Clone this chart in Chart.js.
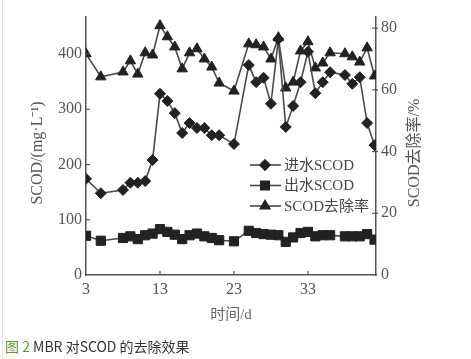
<!DOCTYPE html>
<html>
<head>
<meta charset="utf-8">
<script src="https://cdn.jsdelivr.net/npm/chart.js@4"></script>
<style>
  body { margin: 0; background: #fff; }
  #wrap { position: relative; width: 471px; height: 359px; }
  #edge { position: absolute; left: 2px; top: 0; bottom: 0; border-left: 1px solid #e4e4e4; }
  #caption { position: absolute; left: 5px; top: 336px; font: 14px "Noto Sans CJK SC", "Noto Sans", sans-serif; color: #333; white-space: nowrap; }
  #caption span { color: #5e9a2e; }
</style>
</head>
<body>
<div id="wrap">
  <canvas id="c" width="471" height="359"></canvas>
  <div id="edge"></div>
  <div id="caption"><span>图 2</span> MBR 对SCOD 的去除效果</div>
</div>
<script>
  // data
  const days = [3, 5, 8, 9, 10, 11, 12, 13, 14, 15, 16, 17, 18, 19, 20, 21, 23,
                25, 26, 27, 28, 29, 30, 31, 32, 33, 34, 35, 36, 38, 39, 40, 41, 42];
  const influent = [174, 148, 154, 167, 167, 170, 208, 328, 315, 293, 257, 275, 266, 266, 253, 253, 237,
                    380, 349, 357, 310, 427, 268, 306, 349, 404, 329, 349, 367, 362, 346, 358, 275, 235];
  const effluent = [71, 62, 67, 70, 65, 72, 75, 83, 78, 73, 65, 72, 75, 70, 67, 63, 61,
                    80, 76, 74, 73, 72, 60, 68, 76, 78, 70, 72, 72, 70, 70, 70, 74, 64];
  const removal = [71.7, 64.2, 65.8, 69.4, 65.1, 72, 71.3, 80.8, 77.2, 73.9, 66.8, 72, 73.3, 70, 67.4, 62.2, 59.6,
                   74.9, 74.6, 73.9, 70, 76.9, 60.6, 62.5, 72.6, 75.6, 67.1, 68.7, 72, 71.7, 70.7, 69, 73.6, 64.5];

  const xTicks = [3, 13, 23, 33];
  const leftTicks = [0, 100, 200, 300, 400];
  const rightTicks = [0, 20, 40, 60, 80];

  const SERIF = '"Liberation Serif", "Noto Sans CJK SC", serif';
  const AXIS = '#555';
  const INK = '#222';

  const pts = vals => vals.map((v, i) => ({ x: days[i], y: v }));

  const series = (label, vals, style, radius, axis) => ({
    label: label,
    data: pts(vals),
    yAxisID: axis,
    borderColor: '#4a4a4a',
    borderWidth: 1.6,
    pointStyle: style,
    pointRadius: radius,
    pointBackgroundColor: INK,
    pointBorderColor: INK,
    pointBorderWidth: 1,
    tension: 0
  });

  // small inward tick marks on all three axes
  const innerTicks = {
    id: 'innerTicks',
    afterDraw(chart) {
      const { ctx, chartArea: a, scales } = chart;
      ctx.save();
      ctx.strokeStyle = AXIS;
      ctx.lineWidth = 1.2;
      const seg = (x1, y1, x2, y2) => { ctx.beginPath(); ctx.moveTo(x1, y1); ctx.lineTo(x2, y2); ctx.stroke(); };
      scales.y.ticks.forEach(t => { if (t.value) { const y = scales.y.getPixelForValue(t.value); seg(a.left, y, a.left + 4, y); } });
      scales.y1.ticks.forEach(t => { if (t.value) { const y = scales.y1.getPixelForValue(t.value); seg(a.right - 4, y, a.right + 2, y); } });
      scales.x.ticks.forEach(t => { if (t.value !== 3) { const x = scales.x.getPixelForValue(t.value); seg(x, a.bottom, x, a.bottom - 4); } });
      ctx.restore();
    }
  };

  // both y titles read bottom-to-top, sitting a little below the axis middle
  const yTitles = {
    id: 'yTitles',
    afterDraw(chart) {
      const { ctx, chartArea: a } = chart;
      const mid = (a.top + a.bottom) / 2 + 7;
      const put = (text, x) => {
        ctx.save();
        ctx.translate(x, mid);
        ctx.rotate(-Math.PI / 2);
        ctx.font = '16px ' + SERIF;
        ctx.fillStyle = '#555';
        ctx.textAlign = 'center';
        ctx.textBaseline = 'middle';
        ctx.fillText(text, 0, 0);
        ctx.restore();
      };
      put('SCOD/(mg·L⁻¹)', a.left - 48);
      put('SCOD去除率/%', a.right + 39);
    }
  };

  // legend sits inside the plot, lower right
  const legendBox = {
    id: 'legendBox',
    afterDatasetsDraw(chart) {
      const { ctx, chartArea: a } = chart;
      chart.data.datasets.forEach((ds, i) => {
        const y = a.top + 148 + i * 20.5;
        const x0 = a.left + 164;
        ctx.save();
        ctx.strokeStyle = ds.borderColor;
        ctx.lineWidth = ds.borderWidth;
        ctx.beginPath(); ctx.moveTo(x0, y); ctx.lineTo(x0 + 31, y); ctx.stroke();
        ctx.fillStyle = ds.pointBackgroundColor;
        ctx.strokeStyle = ds.pointBorderColor;
        Chart.helpers.drawPoint(ctx, { pointStyle: ds.pointStyle, radius: ds.pointRadius - 0.5, borderWidth: 1, rotation: 0 }, x0 + 15, y);
        ctx.fillStyle = '#444';
        ctx.font = '15px ' + SERIF;
        ctx.textBaseline = 'middle';
        ctx.fillText(ds.label, x0 + 34, y + 1);
        ctx.restore();
      });
    }
  };

  new Chart(document.getElementById('c'), {
    type: 'line',
    data: {
      datasets: [
        series('进水SCOD', influent, 'rectRot', 5.5, 'y'),
        series('出水SCOD', effluent, 'rect', 6.5, 'y'),
        series('SCOD去除率', removal, 'triangle', 6, 'y1')
      ]
    },
    options: {
      responsive: false,
      animation: false,
      layout: { padding: { top: 17, left: 0, right: 0, bottom: 0 } },
      plugins: { legend: { display: false }, tooltip: { enabled: false } },
      scales: {
        x: {
          type: 'linear',
          min: 3,
          max: 42.2,
          afterBuildTicks: s => { s.ticks = xTicks.map(v => ({ value: v })); },
          afterFit: s => { s.height = 84; },
          grid: { display: false, drawTicks: false },
          border: { display: true, color: AXIS, width: 1.5 },
          ticks: { color: '#555', font: { family: SERIF, size: 16 }, padding: 5, autoSkip: false, maxRotation: 0 },
          title: { display: true, text: '时间/d', color: '#666', font: { family: SERIF, size: 15 }, padding: { top: 0, bottom: 35 } }
        },
        y: {
          position: 'left',
          min: 0,
          max: 467,
          afterBuildTicks: s => { s.ticks = leftTicks.map(v => ({ value: v })); },
          afterFit: s => { s.width = 86; },
          grid: { display: false, drawTicks: false },
          border: { display: true, color: AXIS, width: 1.5 },
          ticks: { color: '#555', font: { family: SERIF, size: 16 }, padding: 4 }
        },
        y1: {
          position: 'right',
          min: 0,
          max: 83.6,
          afterBuildTicks: s => { s.ticks = rightTicks.map(v => ({ value: v })); },
          afterFit: s => { s.width = 95; },
          grid: { display: false, drawTicks: false },
          border: { display: true, color: AXIS, width: 1.5 },
          ticks: { color: '#555', font: { family: SERIF, size: 16 }, padding: 5 }
        }
      }
    },
    plugins: [innerTicks, yTitles, legendBox]
  });
</script>
</body>
</html>
